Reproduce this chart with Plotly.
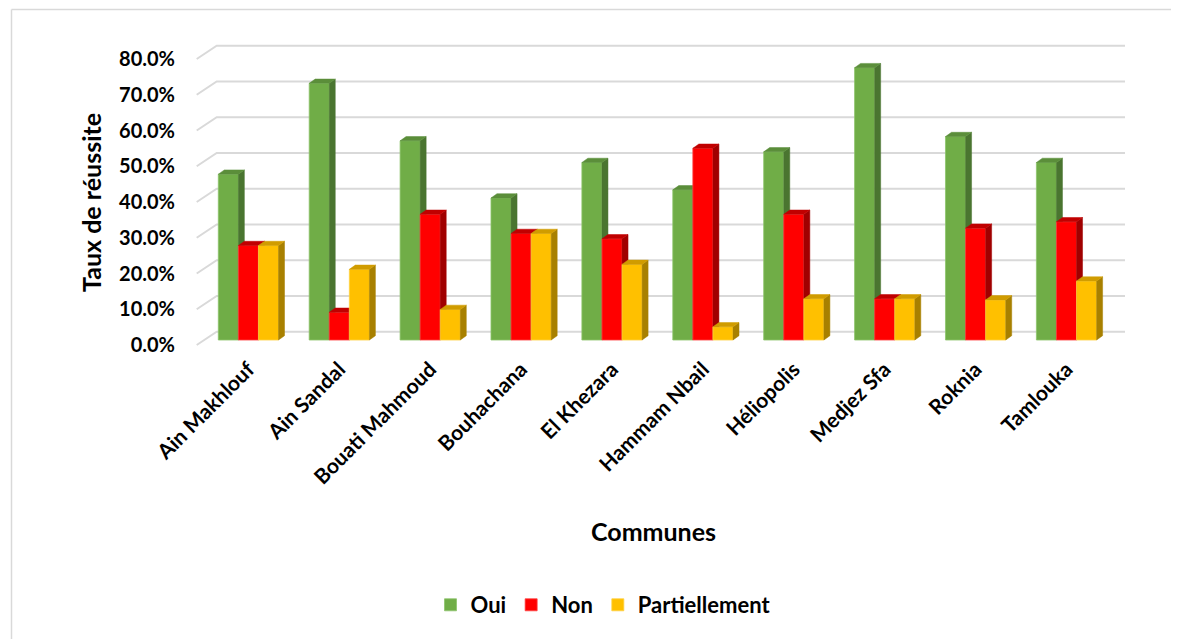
import plotly.graph_objects as go

# ---------------- data ----------------
communes = ["Ain Makhlouf", "Ain Sandal", "Bouati Mahmoud", "Bouhachana", "El Khezara",
            "Hammam Nbail", "Héliopolis", "Medjez Sfa", "Roknia", "Tamlouka"]
oui = [46.7, 72.3, 56.1, 40.0, 50.0, 42.3, 53.0, 76.7, 57.3, 50.0]
non = [26.6, 7.8, 35.4, 30.0, 28.5, 54.0, 35.4, 11.6, 31.5, 33.3]
partiellement = [26.6, 19.9, 8.6, 30.0, 21.3, 3.7, 11.6, 11.6, 11.3, 16.6]
tick_values = [0, 10, 20, 30, 40, 50, 60, 70, 80]
tick_labels = ["0.0%", "10.0%", "20.0%", "30.0%", "40.0%", "50.0%", "60.0%", "70.0%", "80.0%"]

series = [
    ("Oui", oui, "#70AD47", "#5B8E3A", "#4A7530", "#8DC46B"),
    ("Non", non, "#FF0000", "#C00000", "#A00000", "#FF4040"),
    ("Partiellement", partiellement, "#FFC000", "#D09C00", "#A88000", "#FFD040"),
]

# ---------------- layout geometry (reference pixels) ----------------
OFF = 8               # page body margin in the browser
W, H = 1179 - OFF, 639 - OFF
L, R, T, B = 190, 1135, 40, 350
pitch = 90.9          # px per category
x0_px = 248.4         # px of first category centre
bar_scale = 3.55      # px per percent for bars
lab_scale = 3.575     # px per percent for labels / grid
bar_base_px = 340
lab_base_px = 345
back_dy_px = 13.3     # back wall offset up
back_dx_px = 20.0     # back wall offset right


def px(xp):
    return (xp - L) / (R - L)


def py(yp):
    return (B - yp) / (B - T)


x_range = [(L - x0_px) / pitch, (R - x0_px) / pitch]
y_bar_range = [(bar_base_px - B) / bar_scale, (bar_base_px - T) / bar_scale]
y_lab_range = [(lab_base_px - B) / lab_scale, (lab_base_px - T) / lab_scale]

bw = 20.07 / pitch
offsets = [-1.5 * bw, -0.5 * bw, 0.5 * bw]
ddx = 6.0 / pitch
ddy = 4.3 / bar_scale

xs = list(range(len(communes)))

fig = go.Figure()

# back-wall gridlines (base layer)
gx_front = (196.7 - x0_px) / pitch
gx_back = gx_front + back_dx_px / pitch
gx_end = (1125 - x0_px) / pitch
gdy = back_dy_px / lab_scale
grid_x, grid_y = [], []
for t in tick_values:
    grid_x += [gx_front, gx_back, gx_end, None]
    grid_y += [t, t + gdy, t + gdy, None]
fig.add_trace(go.Scatter(x=grid_x, y=grid_y, mode="lines",
                         line=dict(color="#D9D9D9", width=2),
                         hoverinfo="skip", showlegend=False, xaxis="x", yaxis="y"))

for i, (name, vals, c_front, c_top, c_side, c_edge) in enumerate(series):
    xa = "x%d" % (i + 2)
    ya = "y%d" % (i + 2)
    sx, sy, tx, ty = [], [], [], []
    for k, v in zip(xs, vals):
        xl = k + offsets[i]
        xr = xl + bw
        sx += [xr, xr + ddx, xr + ddx, xr, xr, None]
        sy += [0, ddy, v + ddy, v, 0, None]
        tx += [xl, xl + ddx, xr + ddx, xr, xl, None]
        ty += [v, v + ddy, v + ddy, v, v, None]
    fig.add_trace(go.Bar(x=xs, y=vals, width=bw, offset=offsets[i], name=name,
                         marker=dict(color=c_front, line=dict(color=c_edge, width=0.8)),
                         xaxis=xa, yaxis=ya))
    fig.add_trace(go.Scatter(x=sx, y=sy, fill="toself", fillcolor=c_side, mode="lines",
                             line=dict(color=c_side, width=0.5), hoverinfo="skip",
                             showlegend=False, xaxis=xa, yaxis=ya))
    fig.add_trace(go.Scatter(x=tx, y=ty, fill="toself", fillcolor=c_top, mode="lines",
                             line=dict(color=c_top, width=0.5), hoverinfo="skip",
                             showlegend=False, xaxis=xa, yaxis=ya))

FONT = "Lato"

layout = dict(
    width=W, height=H,
    margin=dict(l=L - OFF, r=W - (R - OFF), t=T - OFF, b=H - (B - OFF)),
    paper_bgcolor="white", plot_bgcolor="rgba(0,0,0,0)",
    barmode="overlay",
    font=dict(family=FONT, color="#000000"),
    xaxis=dict(range=x_range, tickvals=xs, ticktext=communes, tickangle=-45,
               showgrid=False, zeroline=False, showline=False, ticks="",
               ticklabelstandoff=2,
               tickfont=dict(family=FONT, size=21, weight=700, color="#000000")),
    yaxis=dict(range=y_lab_range, tickvals=tick_values, ticktext=tick_labels,
               showgrid=False, zeroline=False, showline=False, ticks="",
               ticklabelstandoff=14,
               tickfont=dict(family=FONT, size=20, weight=700, color="#000000")),
    legend=dict(orientation="h", x=px(603), xanchor="center",
                y=py(605), yanchor="middle",
                font=dict(family=FONT, size=22, weight=700, color="#000000"),
                bgcolor="rgba(0,0,0,0)", itemwidth=30, traceorder="normal"),
    showlegend=True,
    annotations=[
        dict(text="Taux de réussite", textangle=-90, xref="paper", yref="paper",
             x=px(91), y=py(203), xanchor="center", yanchor="middle",
             showarrow=False, font=dict(family=FONT, size=25, weight=700, color="#000000")),
        dict(text="Communes", xref="paper", yref="paper",
             x=px(653), y=py(531), xanchor="center", yanchor="middle",
             showarrow=False, font=dict(family=FONT, size=25, weight=700, color="#000000")),
    ],
    shapes=[
        dict(type="line", xref="paper", yref="paper",
             x0=px(11.5), x1=px(1179 + 5),
             y0=py(9.5), y1=py(9.5),
             line=dict(color="#D9D9D9", width=1.5)),
        dict(type="line", xref="paper", yref="paper",
             x0=px(11.5), x1=px(11.5),
             y0=py(9.5), y1=py(639 + 5),
             line=dict(color="#D9D9D9", width=1.5)),
    ],
)
for i in range(2, 5):
    layout["xaxis%d" % i] = dict(range=x_range, overlaying="x", visible=False)
    layout["yaxis%d" % i] = dict(range=y_bar_range, overlaying="y", visible=False)

fig.update_layout(**layout)
fig.write_html("out.html")
